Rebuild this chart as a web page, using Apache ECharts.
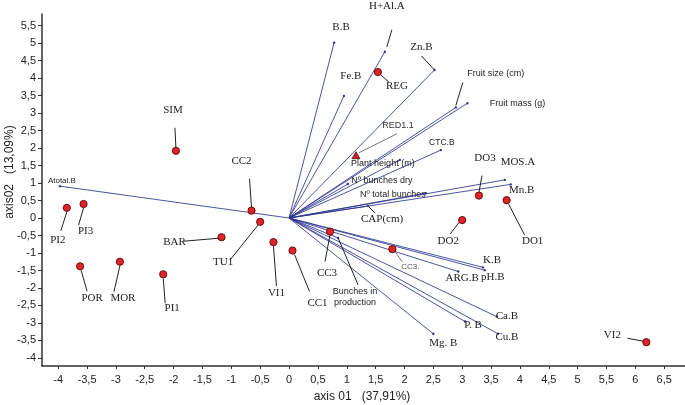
<!DOCTYPE html>
<html><head><meta charset="utf-8">
<script src="https://cdn.jsdelivr.net/npm/echarts@6/dist/echarts.min.js"></script>
<style>html,body{margin:0;padding:0;background:#fff}#c{width:685px;height:405px}</style>
</head><body><div id="c"></div>
<script>
// ---- data ----
const obsNames = ['SIM','CC2','PI2','PI3','BAR','TU1','VI1','CC1','POR','MOR','PI1','CC3','CC3.','DO2','DO1','DO3','REG','VI2','RED1.1'];
const obsX = [-1.96,-0.65,-3.85,-3.56,-1.17,-0.50,-0.27,0.06,-3.62,-2.93,-2.18,0.71,1.79,3.00,3.77,3.29,1.54,6.19,1.16];
const obsY = [1.92,0.21,0.29,0.40,-0.55,-0.11,-0.69,-0.93,-1.38,-1.25,-1.61,-0.39,-0.89,-0.06,0.51,0.64,4.17,-3.55,1.78];

const varNames = ['Atotal.B','B.B','H+Al.A','Fe.B','Zn.B','Fruit size (cm)','Fruit mass (g)','CTC.B','Plant height (m)','Nº bunches dry','Nº total bunches','CAP(cm)','MOS.A','Mn.B','K.B','pH.B','ARG.B','Ca.B','Cu.B','P. B','Mg. B','Bunches in\nproduction'];
const varX = [-3.97,0.78,1.66,0.95,2.52,2.89,3.09,2.63,1.92,1.02,2.37,1.37,3.74,3.84,3.36,3.39,2.93,3.60,3.62,3.05,2.50,0.85];
const varY = [0.91,5.01,4.75,3.49,4.23,3.16,3.28,1.94,1.66,0.97,0.71,0.34,1.09,0.96,-1.41,-1.49,-1.53,-2.82,-3.31,-2.96,-3.31,-0.57];

const xTickValues = [-4,-3.5,-3,-2.5,-2,-1.5,-1,-0.5,0,0.5,1,1.5,2,2.5,3,3.5,4,4.5,5,5.5,6,6.5];
const yTickValues = [-4,-3.5,-3,-2.5,-2,-1.5,-1,-0.5,0,0.5,1,1.5,2,2.5,3,3.5,4,4.5,5,5.5];
const xTitle = 'axis 01   (37,91%)';
const yTitle = 'axis02   (13,09%)';

// ---- layout / style (pixel offsets from each mark) ----
const SERIF = '"Liberation Serif", "DejaVu Serif", serif';
const SANS = '"Liberation Sans", Arial, sans-serif';
const obsLayout = {
  'SIM':[[-3,-41],[-1,-23],[0,-3]],
  'CC2':[[-10,-50],[-2,-32],[0,-3]],
  'PI2':[[-9,32],[0,4],[-6,23]],
  'PI3':[[2,27],[0,4],[-5,21]],
  'BAR':[[-47,5],[-3,1],[-38,4]],
  'TU1':[[-37,40],[-2,3],[-30,38]],
  'VI1':[[3,51],[0,4],[3,44]],
  'CC1':[[25,53],[2,4],[17,41]],
  'POR':[[12,32],[1,4],[7,25]],
  'MOR':[[3,36],[0,4],[-6,30]],
  'PI1':[[9,34],[0,4],[2,29]],
  'CC3':[[-3,41],[0,3],[-5,30]],
  'CC3.':[[18,18],[3,3],[10,13]],
  'DO2':[[-14,21],[-3,2],[-12,14]],
  'DO1':[[26,41],[2,4],[18,35]],
  'DO3':[[6,-37],[3,-20],[0,-3]],
  'REG':[[19,14],[3,3],[11,10]],
  'VI2':[[-34,-7],[-19,-4],[-3,-1]],
  'RED1.1':[[42,-30],[3,-3],[41,-22]]
};
const obsFont = {'CC3.':['8px',SANS,'#555'],'RED1.1':['9px',SANS,'#333']};
const varLayout = {
  'Atotal.B':[[2,-5]],
  'B.B':[[7,-16]],
  'H+Al.A':[[2,-46],[2,-5],[7,-22]],
  'Fe.B':[[7,-20]],
  'Zn.B':[[-13,-23],[0,0],[-13,-14]],
  'Fruit size (cm)':[[40,-34],[0,-2],[7,-25]],
  'Fruit mass (g)':[[50,0]],
  'CTC.B':[[1,-7]],
  'Plant height (m)':[[-17,4]],
  'Nº bunches dry':[[34,-4]],
  'Nº total bunches':[[-33,1]],
  'CAP(cm)':[[14,13],[0,0],[7,7]],
  'MOS.A':[[13,-18]],
  'Mn.B':[[11,6]],
  'K.B':[[9,-7]],
  'pH.B':[[8,7]],
  'ARG.B':[[4,7]],
  'Ca.B':[[10,-1]],
  'Cu.B':[[9,3]],
  'P. B':[[8,4]],
  'Mg. B':[[10,9]],
  'Bunches in\nproduction':[[17,59],[0,0],[20,47]]
};
const varSans = {'Atotal.B':'8px','Fruit size (cm)':'9px','Fruit mass (g)':'9px','CTC.B':'8.5px','Plant height (m)':'9px','Nº bunches dry':'9px','Nº total bunches':'9px','Bunches in\nproduction':'9px'};

const obsData = obsNames.map((n,i)=>[obsX[i],obsY[i],n]);
const varData = varNames.map((n,i)=>[varX[i],varY[i],n]);
const fmt = v => String(v).replace('.',',');

function renderVar(params, api){
  const name = varNames[params.dataIndex];
  const o = api.coord([0,0]);
  const e = api.coord([api.value(0), api.value(1)]);
  const lay = varLayout[name] || [[0,-8]];
  const kids = [
    {type:'line', shape:{x1:o[0],y1:o[1],x2:e[0],y2:e[1]}, style:{stroke:'#2f3590',lineWidth:1,opacity:0.85}},
    {type:'circle', shape:{cx:e[0],cy:e[1],r:1.2}, style:{fill:'#2f3590'}}
  ];
  if (lay[1]) kids.push({type:'line', shape:{x1:e[0]+lay[1][0],y1:e[1]+lay[1][1],x2:e[0]+lay[2][0],y2:e[1]+lay[2][1]}, style:{stroke:'#222',lineWidth:1}});
  const sans = varSans[name];
  kids.push({type:'text', style:{text:name, x:e[0]+lay[0][0], y:e[1]+lay[0][1], align:'center', verticalAlign:'middle',
    font: sans ? (sans+' '+SANS) : ('11px '+SERIF), fill:'#222', lineHeight:11}});
  return {type:'group', children:kids};
}
function renderObs(params, api){
  const name = obsNames[params.dataIndex];
  const p = api.coord([api.value(0), api.value(1)]);
  const lay = obsLayout[name];
  const f = obsFont[name] || ['11px',SERIF,'#222'];
  const kids = [];
  kids.push({type:'line', shape:{x1:p[0]+lay[1][0],y1:p[1]+lay[1][1],x2:p[0]+lay[2][0],y2:p[1]+lay[2][1]}, style:{stroke: name==='CC3.'||name==='RED1.1' ? '#777':'#222',lineWidth:1}});
  if (name==='RED1.1') {
    kids.push({type:'polygon', shape:{points:[[p[0],p[1]-4],[p[0]-4,p[1]+3],[p[0]+4,p[1]+3]]}, style:{fill:'#b8202a',stroke:'#6a0c0c',lineWidth:0.8}});
  } else {
    kids.push({type:'circle', shape:{cx:p[0],cy:p[1],r:3.6}, style:{fill:'#e0242a',stroke:'#6a0c0c',lineWidth:1}});
  }
  kids.push({type:'text', style:{text:name, x:p[0]+lay[0][0], y:p[1]+lay[0][1], align:'center', verticalAlign:'middle', font:f[0]+' '+f[1], fill:f[2]}});
  return {type:'group', children:kids};
}

const chart = echarts.init(document.getElementById('c'));
chart.setOption({
  animation:false,
  backgroundColor:'#fff',
  grid:{left:42, top:14, right:0, bottom:39},
  xAxis:{type:'value', min:-4.28, max:6.86,
    axisLine:{onZero:false, lineStyle:{color:'#333', width:1.5}},
    axisTick:{show:true, length:3, customValues:xTickValues, lineStyle:{color:'#333'}},
    axisLabel:{customValues:xTickValues, formatter:fmt, color:'#222', fontSize:11, fontFamily:SANS, margin:8},
    splitLine:{show:false}},
  yAxis:{type:'value', min:-4.23, max:5.83,
    axisLine:{show:true, onZero:false, lineStyle:{color:'#333', width:1.5}},
    axisTick:{show:true, length:4, customValues:yTickValues, lineStyle:{color:'#333'}},
    axisLabel:{customValues:yTickValues, formatter:fmt, color:'#222', fontSize:11, fontFamily:SANS, margin:6},
    splitLine:{show:false}},
  graphic:[
    {type:'text', x:0, y:0, style:{text:xTitle, x:362, y:397, align:'center', verticalAlign:'middle', font:'12px '+SANS, fill:'#222'}},
    {type:'text', rotation:Math.PI/2, x:10, y:172, style:{text:yTitle, align:'center', verticalAlign:'middle', font:'12px '+SANS, fill:'#222'}}
  ],
  series:[
    {type:'custom', coordinateSystem:'cartesian2d', data:varData, renderItem:renderVar, encode:{x:0,y:1}, z:2},
    {type:'custom', coordinateSystem:'cartesian2d', data:obsData, renderItem:renderObs, encode:{x:0,y:1}, z:3}
  ]
});
</script></body></html>
